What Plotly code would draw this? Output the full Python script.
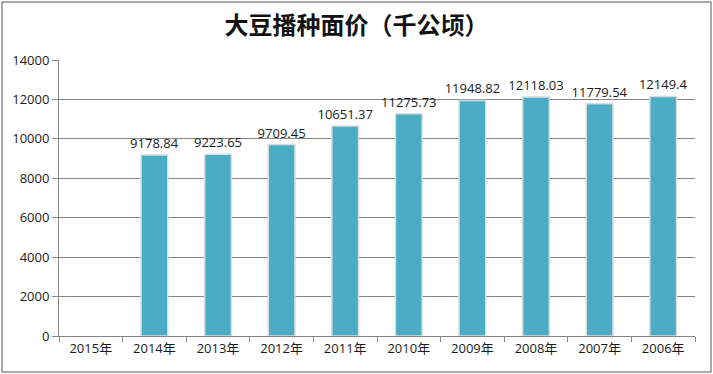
import plotly.graph_objects as go

categories = ["2015年", "2014年", "2013年", "2012年", "2011年", "2010年", "2009年", "2008年", "2007年", "2006年"]
values = [None, 9178.84, 9223.65, 9709.45, 10651.37, 11275.73, 11948.82, 12118.03, 11779.54, 12149.4]
labels = ["", "9178.84", "9223.65", "9709.45", "10651.37", "11275.73", "11948.82", "12118.03", "11779.54", "12149.4"]
y_ticks = [0, 2000, 4000, 6000, 8000, 10000, 12000, 14000]
y_tick_text = ["0", "2000", "4000", "6000", "8000", "10000", "12000", "14000"]
title_text = "大豆播种面价（千公顷）"

W, H = 713, 374
ML, MR, MT, MB = 59, 18, 60, 38
FONT = "Noto Sans CJK SC, Noto Sans, DejaVu Sans, sans-serif"
NUMFONT = "Open Sans, Noto Sans CJK SC, sans-serif"

fig = go.Figure()
fig.add_trace(go.Bar(
    x=categories, y=values, text=labels,
    textposition="outside", cliponaxis=False, constraintext="none",
    textfont=dict(size=13, color="#1a1a1a", family=NUMFONT),
    marker=dict(color="#4BACC6", line=dict(color="#dcdcdc", width=1.5)),
    hoverinfo="x+y",
))

pw = W - ML - MR
ph = H - MT - MB
x0 = (2 - ML) / pw
x1 = (W - 2 - ML) / pw
y1 = (H - MB - 2) / ph
y0 = (H - MB - (H - 2)) / ph

fig.update_layout(
    width=W, height=H,
    margin=dict(l=ML, r=MR, t=MT, b=MB, pad=0, autoexpand=False),
    paper_bgcolor="white", plot_bgcolor="white",
    title=dict(text=title_text, x=0.5, xanchor="center",
               y=1 - 26 / H, yanchor="middle",
               font=dict(size=24, color="#111111", family=FONT, weight=600)),
    bargap=0.58,
    showlegend=False,
    font=dict(family=NUMFONT, size=13, color="#1a1a1a"),
    shapes=[dict(type="rect", xref="paper", yref="paper", x0=x0, x1=x1, y0=y0, y1=y1,
                 line=dict(color="#8c8c8c", width=1.5), fillcolor="rgba(0,0,0,0)", layer="below")],
)
fig.update_xaxes(
    type="category", categoryorder="array", categoryarray=categories,
    showline=True, linecolor="#868686", linewidth=1,
    ticks="outside", tickson="boundaries", ticklen=5, tickcolor="#868686",
    tickfont=dict(size=13, color="#1a1a1a", family=NUMFONT),
    showgrid=False,
)
fig.update_yaxes(
    range=[0, 14000], tickvals=y_ticks, ticktext=y_tick_text,
    showline=True, linecolor="#868686", linewidth=1,
    ticks="outside", ticklen=6, tickcolor="#868686",
    showgrid=True, gridcolor="#868686", gridwidth=1,
    zeroline=False,
    tickfont=dict(size=13, color="#1a1a1a", family=NUMFONT),
)
fig.write_html("out.html", config={"displayModeBar": False},
               post_script="document.body.style.margin='0px';document.body.style.overflow='hidden';")
